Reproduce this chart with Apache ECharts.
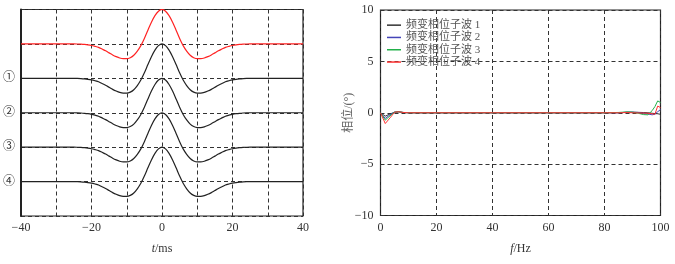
<!DOCTYPE html>
<html>
<head>
<meta charset="utf-8">
<script src="https://cdn.jsdelivr.net/npm/echarts@6/dist/echarts.min.js"></script>
<style>html,body{margin:0;padding:0;background:#fff}#c{width:675px;height:264px}</style>
</head>
<body>
<div id="c"></div>
<script>
// Left panel: wavelet shape, time in ms
var waveTime = [-40,-30,-25,-24,-23,-22,-21,-20,-19,-18,-17,-16,-15,-14,-13,-12,-11,-10,-9,-8,-7,-6,-5,-4,-3,-2,-1,0,1,2,3,4,5,6,7,8,9,10,11,12,13,14,15,16,17,18,19,20,21,22,23,24,25,30,40];
var waveAmp = [0,0,0,-0.003,-0.008,-0.016,-0.028,-0.045,-0.07,-0.10,-0.15,-0.20,-0.26,-0.32,-0.37,-0.41,-0.43,-0.43,-0.40,-0.33,-0.21,-0.05,0.16,0.40,0.63,0.82,0.95,1.00,0.95,0.82,0.63,0.40,0.16,-0.05,-0.21,-0.33,-0.40,-0.43,-0.43,-0.41,-0.37,-0.32,-0.26,-0.20,-0.15,-0.10,-0.07,-0.045,-0.028,-0.016,-0.008,-0.003,0,0,0];
var waveOffsets = [4, 3, 2, 1, 0];
var waveColors = ['#ff2222', '#222222', '#222222', '#222222', '#222222'];
var waveLabels = {3: '①', 2: '②', 1: '③', 0: '④'};

// Right panel: phase (degrees) vs frequency (Hz)
var freqs = [0, 1.7, 3.4, 5, 6.5, 8, 10, 20, 40, 60, 80, 85, 88, 90, 92, 94, 95.5, 97, 98, 99, 100];
var phase1 = [0, -0.33, -0.12, 0.05, 0.08, 0.03, 0, 0, 0, 0, 0, 0, 0.05, 0.05, 0.04, 0.02, 0, -0.05, -0.08, -0.1, -0.15];
var phase2 = [0, -0.55, -0.2, 0.05, 0.1, 0.03, 0, 0, 0, 0, 0, 0, 0.05, 0.06, 0.03, -0.05, -0.12, -0.2, -0.15, 0.1, 0.3];
var phase3 = [0, -0.72, -0.3, 0.05, 0.1, 0.03, 0, 0, 0, 0, 0, 0.03, 0.08, 0.06, -0.05, -0.18, -0.2, 0.2, 0.6, 1.15, 1.0];
var phase4 = [0, -1.05, -0.5, 0.05, 0.1, 0.03, 0, 0, 0, 0, 0, 0, 0.02, 0, -0.02, -0.03, -0.05, -0.1, -0.15, 0.65, 0.5];
var phaseNames = ['频变相位子波 1', '频变相位子波 2', '频变相位子波 3', '频变相位子波 4'];
var phaseColors = ['#333333', '#4444b8', '#22b04a', '#ff3333'];

var FONT = '"Liberation Serif", "Noto Sans CJK SC", serif';
function minus(v) { return String(v).replace('-', '\u2212'); }
function pairs(xs, ys, off) { return xs.map(function (x, i) { return [x, ys[i] + (off || 0)]; }); }

var dashed = { show: true, lineStyle: { color: '#333', type: [4, 3], width: 1 } };
var labelStyle = { color: '#333', fontFamily: FONT, fontSize: 12 };

var series = [];
waveOffsets.forEach(function (off, k) {
  series.push({
    type: 'line', xAxisIndex: 0, yAxisIndex: 0, showSymbol: false, smooth: 0.3,
    data: pairs(waveTime, waveAmp, off), lineStyle: { color: waveColors[k], width: 1.2 },
    itemStyle: { color: waveColors[k] }, silent: true, z: 3
  });
});
[phase1, phase2, phase3, phase4].forEach(function (arr, k) {
  series.push({
    type: 'line', name: phaseNames[k], xAxisIndex: 1, yAxisIndex: 1, showSymbol: false,
    data: pairs(freqs, arr), lineStyle: { color: phaseColors[k], width: 1 },
    itemStyle: { color: phaseColors[k] }, silent: true, z: 3
  });
});

var chart = echarts.init(document.getElementById('c'), null, { renderer: 'canvas' });
chart.setOption({
  animation: false,
  backgroundColor: '#fff',
  grid: [
    { left: 21, top: 9.5, width: 282, height: 206.5, show: true, borderColor: '#222', borderWidth: 1.2, backgroundColor: 'transparent' },
    { left: 380.5, top: 10, width: 280, height: 205.5, show: true, borderColor: '#222', borderWidth: 1.2, backgroundColor: 'transparent' }
  ],
  legend: {
    data: phaseNames, orient: 'vertical', left: 387, top: 19, itemWidth: 14, itemHeight: 1.5, itemGap: 0,
    icon: 'rect', textStyle: { color: '#555', fontFamily: FONT, fontSize: 11, lineHeight: 12.3 }, padding: 0
  },
  xAxis: [
    { gridIndex: 0, type: 'value', min: -40, max: 40, interval: 10,
      axisLine: { show: false }, axisTick: { show: false }, splitLine: dashed,
      axisLabel: Object.assign({ margin: 6, formatter: function (v) { return v % 20 === 0 ? minus(v) : ''; } }, labelStyle),
      name: '{i|t}/ms', nameLocation: 'middle', nameGap: 27, nameMoveOverlap: false,
      nameTextStyle: { color: '#333', fontFamily: FONT, fontSize: 12, rich: { i: { fontStyle: 'italic', fontFamily: FONT, fontSize: 12, color: '#333' } } } },
    { gridIndex: 1, type: 'value', min: 0, max: 100, interval: 20,
      axisLine: { show: false }, axisTick: { show: false }, splitLine: dashed,
      axisLabel: Object.assign({ margin: 6, formatter: minus }, labelStyle),
      name: '{i|f}/Hz', nameLocation: 'middle', nameGap: 27, nameMoveOverlap: false,
      nameTextStyle: { color: '#333', fontFamily: FONT, fontSize: 12, rich: { i: { fontStyle: 'italic', fontFamily: FONT, fontSize: 12, color: '#333' } } } }
  ],
  yAxis: [
    { gridIndex: 0, type: 'value', min: -1, max: 5, interval: 1,
      axisLine: { show: true, onZero: false, lineStyle: { color: '#222', width: 2 } }, axisTick: { show: false }, splitLine: dashed,
      axisLabel: Object.assign({ margin: 6, formatter: function (v) { return waveLabels[v] || ''; } }, labelStyle) },
    { gridIndex: 1, type: 'value', min: -10, max: 10, interval: 5,
      axisLine: { show: false, onZero: false }, axisTick: { show: false }, splitLine: dashed,
      axisLabel: Object.assign({ margin: 7, formatter: minus }, labelStyle),
      name: '相位/(°)', nameLocation: 'middle', nameGap: 26, nameMoveOverlap: false,
      nameTextStyle: { color: '#666', fontFamily: FONT, fontSize: 12 } }
  ],
  series: series
});
</script>
</body>
</html>
